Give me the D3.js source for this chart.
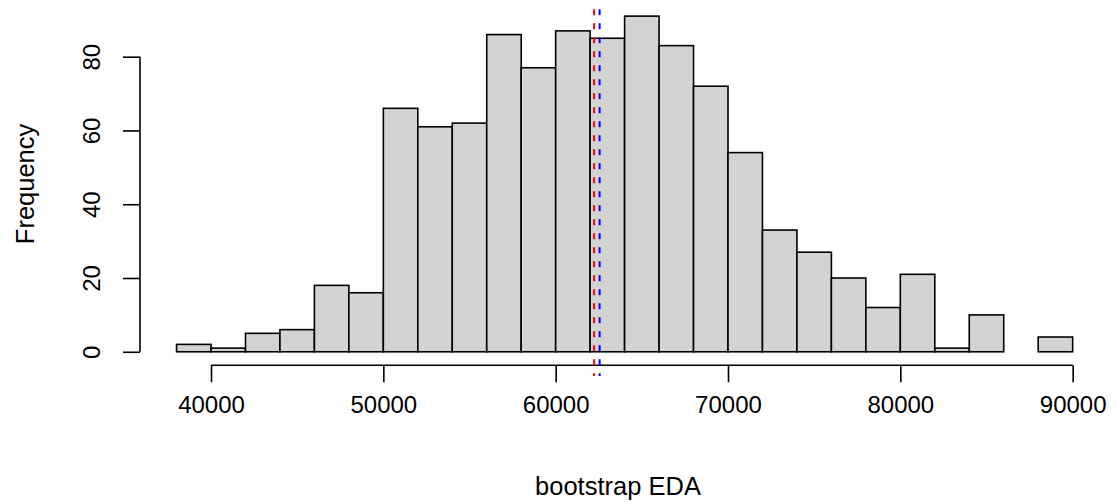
<!DOCTYPE html>
<html>
<head>
<meta charset="utf-8">
<script src="https://cdn.jsdelivr.net/npm/d3@7"></script>
<style>
  body { margin: 0; background: #fff; }
  text { font-family: "Liberation Sans", Arial, sans-serif; fill: #000; }
</style>
</head>
<body>
<script>
// histogram of bootstrap EDA, bins of 2000
const binStarts = [38000, 40000, 42000, 44000, 46000, 48000, 50000, 52000, 54000, 56000,
  58000, 60000, 62000, 64000, 66000, 68000, 70000, 72000, 74000, 76000,
  78000, 80000, 82000, 84000, 86000, 88000]
const counts = [2, 1, 5, 6, 18, 16, 66, 61, 62, 86,
  77, 87, 85, 91, 83, 72, 54, 33, 27, 20,
  12, 21, 1, 10, 0, 4]
const binWidth = 2000
const xTicks = [40000, 50000, 60000, 70000, 80000, 90000]
const yTicks = [0, 20, 40, 60, 80]
const refLines = [
  { value: 62230, color: '#ff0000' },
  { value: 62550, color: '#0000ff' }
]

const W = 1118, H = 504
const plot = { left: 140.7, right: 1108.5, top: 2.7, bottom: 365.2 }

const svg = d3.select('body').append('svg')
  .attr('width', W)
  .attr('height', H)

// R style: usr range extended 4% each side
const xDom = [38000 - 0.04 * 52000, 90000 + 0.04 * 52000]
const yDom = [-0.04 * 91, 91 + 0.04 * 91]
const x = d3.scaleLinear().domain(xDom).range([plot.left, plot.right])
const y = d3.scaleLinear().domain(yDom).range([plot.bottom, plot.top])

const bins = binStarts.map((s, i) => ({ x0: s, x1: s + binWidth, n: counts[i] }))

svg.append('g')
  .selectAll('rect')
  .data(bins)
  .join('rect')
  .attr('x', d => x(d.x0))
  .attr('y', d => y(d.n))
  .attr('width', d => x(d.x1) - x(d.x0))
  .attr('height', d => y(0) - y(d.n))
  .attr('fill', '#d3d3d3')
  .attr('stroke', '#000')
  .attr('stroke-width', 1.6)

// x axis
const xAxis = svg.append('g')
  .attr('transform', `translate(0,${plot.bottom})`)
  .call(d3.axisBottom(x).tickValues(xTicks).tickSize(17).tickPadding(14).tickFormat(d3.format('d')))
xAxis.select('.domain').attr('d', `M${x(40000)},0H${x(90000)}`)

// y axis
const yAxis = svg.append('g')
  .attr('transform', `translate(${plot.left - 0.7},0)`)
  .call(d3.axisLeft(y).tickValues(yTicks).tickSize(17).tickPadding(0))
yAxis.select('.domain').attr('d', `M0,${y(0)}V${y(80)}`)
yAxis.selectAll('.tick text')
  .attr('x', 0)
  .attr('transform', 'translate(-48,0) rotate(-90)')
  .attr('text-anchor', 'middle')
  .attr('dy', '0.35em')

svg.selectAll('.domain, .tick line')
  .attr('stroke', '#000')
  .attr('stroke-width', 1.6)
svg.selectAll('.tick text')
  .attr('font-size', 24)
  .attr('font-family', '"Liberation Sans", Arial, sans-serif')
  .attr('fill', '#000')

// reference lines
svg.append('g')
  .selectAll('line')
  .data(refLines)
  .join('line')
  .attr('x1', d => x(d.value))
  .attr('x2', d => x(d.value))
  .attr('y1', 9.3)
  .attr('y2', 376)
  .attr('stroke', d => d.color)
  .attr('stroke-width', 2)
  .attr('stroke-dasharray', '6,8')

// axis titles
svg.append('text')
  .attr('x', 618)
  .attr('y', 486)
  .attr('text-anchor', 'middle')
  .attr('dy', '0.35em')
  .attr('font-size', 25.5)
  .text('bootstrap EDA')

svg.append('text')
  .attr('transform', `translate(25,${(plot.top + plot.bottom) / 2}) rotate(-90)`)
  .attr('text-anchor', 'middle')
  .attr('dy', '0.35em')
  .attr('font-size', 25.5)
  .text('Frequency')
</script>
</body>
</html>
